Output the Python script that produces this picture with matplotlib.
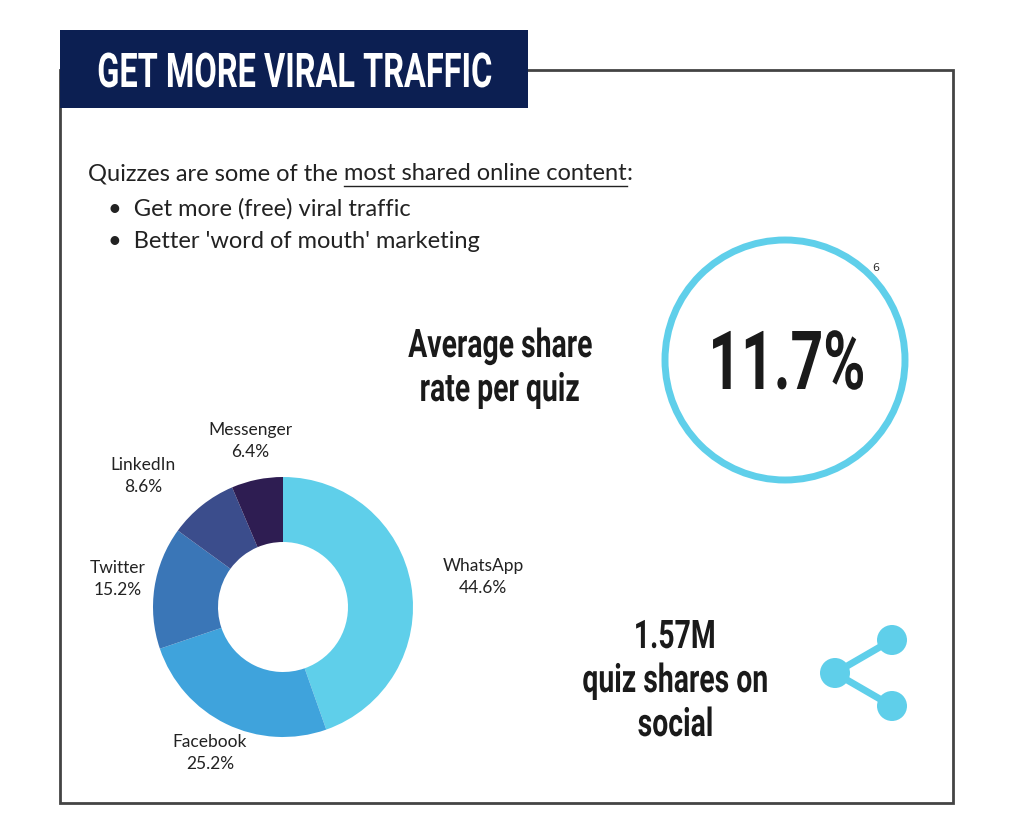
import matplotlib
matplotlib.use("Agg")
import matplotlib.pyplot as plt
from matplotlib.patches import Rectangle, Circle, PathPatch
from matplotlib.textpath import TextPath
from matplotlib.font_manager import FontProperties
from matplotlib.transforms import Affine2D

platforms = ["WhatsApp", "Facebook", "Twitter", "LinkedIn", "Messenger"]
shares = [44.6, 25.2, 15.2, 8.6, 6.4]
colors = ["#5fcfea", "#3fa3dc", "#3a76b7", "#3b4d8c", "#2e1d52"]
label_pos = [(483, 577), (210, 753), (118, 579), (143, 476), (250, 441)]

W, H = 1024, 836
fig = plt.figure(figsize=(W/100, H/100), dpi=100)
ax = fig.add_axes([0, 0, 1, 1])
ax.set_xlim(0, W); ax.set_ylim(0, H); ax.axis("off")
Y = lambda y: H - y

BOLD = FontProperties(family="Roboto", weight="bold")

def cond_text(s, cx, cy, cap_h, sx=0.72, color="#1a1a1a"):
    """Condensed bold text, centered at (cx, cy) in pixel coords, cap height cap_h px."""
    tp = TextPath((0, 0), s, size=100, prop=BOLD)
    ref = TextPath((0, 0), "H", size=100, prop=BOLD).get_extents()
    scale = cap_h / ref.height
    ext = tp.get_extents()
    w = ext.width * scale * sx
    tr = Affine2D().scale(scale * sx, scale).translate(cx - w/2 - ext.x0*scale*sx, Y(cy) - cap_h/2)
    ax.add_patch(PathPatch(tr.transform_path(tp), fc=color, ec="none"))

ax.add_patch(Rectangle((60, Y(803)), 893, 733, fill=False, ec="#444444", lw=2))
ax.add_patch(Rectangle((60, Y(108)), 468, 78, fc="#0c1f52", ec="none"))
cond_text("GET MORE VIRAL TRAFFIC", 295, 70, 34, sx=0.68, color="white")

tf = dict(fontsize=17, color="#222222", family="Lato", va="center")
fig.canvas.draw()
r = fig.canvas.get_renderer()
t1 = ax.text(88, Y(174), "Quizzes are some of the", **tf)
x1 = t1.get_window_extent(r).x1 + 6
t2 = ax.text(x1, Y(174), "most shared online content", **tf)
e2 = t2.get_window_extent(r)
ax.plot([x1, e2.x1], [Y(186), Y(186)], color="#222222", lw=1)
ax.text(e2.x1, Y(174), ":", **tf)
ax.text(108, Y(209), "•  Get more (free) viral traffic", **tf)
ax.text(108, Y(242), "•  Better 'word of mouth' marketing", **tf)

cond_text("Average share", 500, 343, 28)
cond_text("rate per quiz", 500, 387, 28)
ax.add_patch(Circle((785, Y(360)), 120, fill=False, ec="#5fcfea", lw=5))
cond_text("11.7%", 788, 360, 58, sx=0.7)
ax.text(876, Y(268), "6", fontsize=8, color="#333333", ha="center", va="center")

cond_text("1.57M", 675, 634, 28)
cond_text("quiz shares on", 675, 678, 28)
cond_text("social", 675, 722, 28)

pts = [(892, Y(640)), (835, Y(673)), (892, Y(706))]
ax.plot([p[0] for p in pts], [p[1] for p in pts], color="#5fcfea", lw=5)
for p in pts:
    ax.add_patch(Circle(p, 15, fc="#5fcfea", ec="none"))

ax.pie(shares, colors=colors, startangle=90, counterclock=False, center=(283, Y(607)),
       radius=130, wedgeprops=dict(width=65, linewidth=0), frame=True)
ax.set_xlim(0, W); ax.set_ylim(0, H); ax.set_aspect("equal"); ax.axis("off")
for name, v, (x, y) in zip(platforms, shares, label_pos):
    ax.text(x, Y(y), f"{name}\n{v}%", fontsize=12.5, family="Lato", color="#222222",
            ha="center", va="center", linespacing=1.4)

fig.savefig("out.png", dpi=100, facecolor="white")
